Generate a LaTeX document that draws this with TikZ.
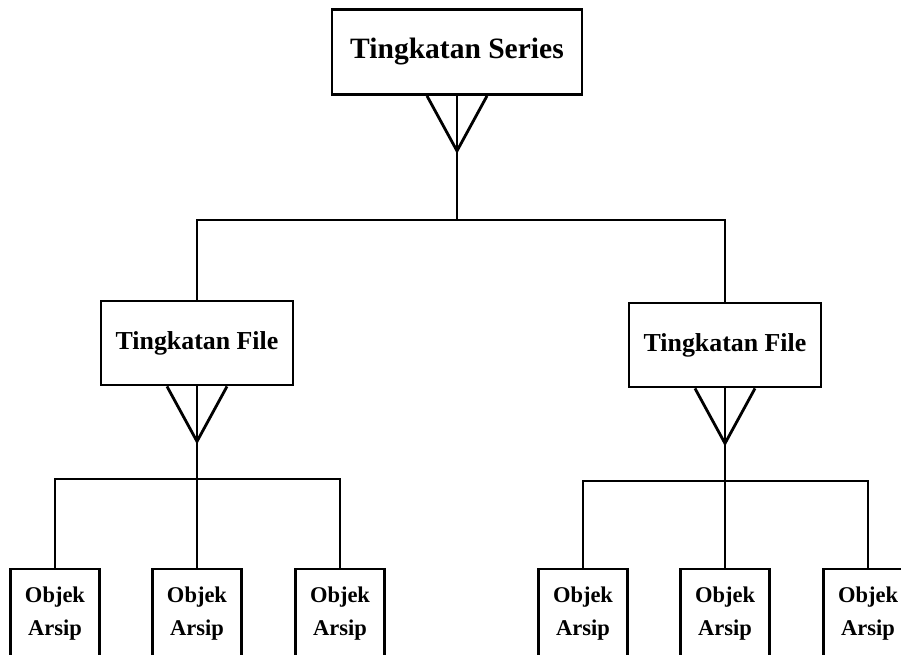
\documentclass[tikz,border=0pt]{standalone}
\usepackage{fontspec}
\setmainfont{Liberation Serif}
\usetikzlibrary{calc}

\begin{document}
\begin{tikzpicture}[x=0.025cm,y=-0.025cm,line width=2pt,
    box/.style={draw,line width=2pt,align=center,inner sep=0pt},
    seriesbox/.style={box,minimum width=6.25cm,minimum height=2.125cm,
      font=\bfseries\fontsize{21}{25}\selectfont},
    filebox/.style={box,minimum width=4.8cm,minimum height=2.1cm,
      font=\bfseries\fontsize{18.4}{22}\selectfont},
    objbox/.style={box,minimum width=2.225cm,minimum height=2.25cm,
      font=\bfseries\fontsize{16}{23.5}\selectfont}]
  \useasboundingbox (0,0) rectangle (901,655);
  \clip (0,0) rectangle (901,655);

  \node[seriesbox] (series) at (457,52) {Tingkatan Series};
  \node[filebox] (fileA) at (197,343) {Tingkatan File};
  \node[filebox] (fileB) at (725,345) {Tingkatan File};

  \foreach \x/\n in {55/a1,197/a2,340/a3,583/b1,725/b2,868/b3}
    \node[objbox] (obj\n) at (\x,614) {Objek\\Arsip};

  % crow's feet
  \foreach \n in {series,fileA,fileB}
    \draw ($(\n.south)+(-30,0)$) -- ($(\n.south)+(0,55)$) -- ($(\n.south)+(30,0)$);

  % series to files
  \coordinate (busTop) at (457,220);
  \draw (series.south) -- (busTop);
  \draw (fileA.north) |- (busTop) -| (fileB.north);

  % files to objects
  \coordinate (busA) at (197,479);
  \coordinate (busB) at (725,481);
  \draw (fileA.south) -- (fileA.south |- obja2.north);
  \draw (obja1.north) |- (busA) -| (obja3.north);
  \draw (fileB.south) -- (fileB.south |- objb2.north);
  \draw (objb1.north) |- (busB) -| (objb3.north);
\end{tikzpicture}
\end{document}
